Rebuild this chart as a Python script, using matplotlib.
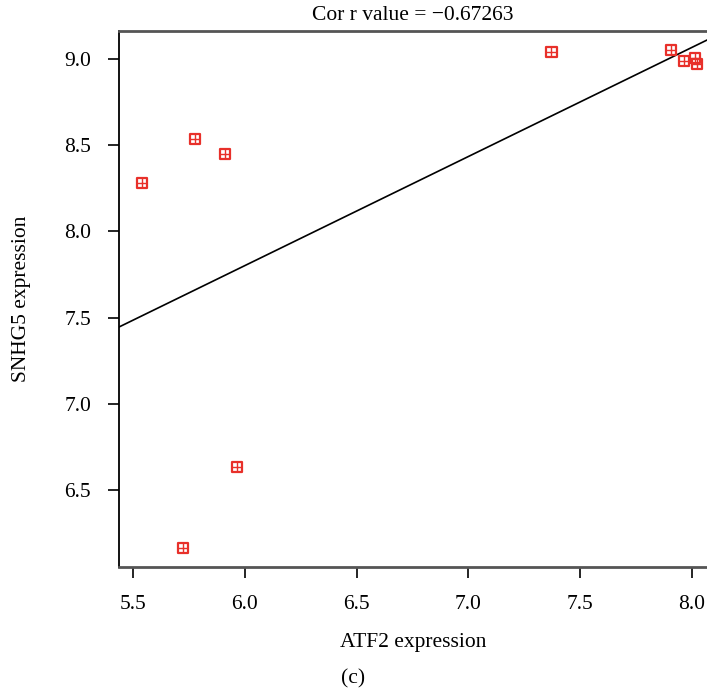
import matplotlib
matplotlib.use('Agg')

import numpy as np
import matplotlib.pyplot as plt

plt.rcParams['font.family'] = ['Liberation Serif', 'DejaVu Serif']

# ATF2 vs SNHG5 expression per sample
atf2 = [5.540, 5.777, 5.911, 5.964, 5.723, 7.371, 7.906, 7.964, 8.013, 8.022]
snhg5 = [8.281, 8.536, 8.449, 6.633, 6.164, 9.041, 9.052, 8.988, 9.006, 8.971]

# fitted line (as drawn)
intercept = 4.003
slope = 0.633

title = "Cor r value = \u22120.67263"
xticks = [5.5, 6.0, 6.5, 7.0, 7.5, 8.0]
yticks = [6.5, 7.0, 7.5, 8.0, 8.5, 9.0]

fig = plt.figure(figsize=(7.07, 6.93), dpi=100)
ax = fig.add_axes([0.1683, 0.1818, 0.8317, 0.7735])

ax.scatter(atf2, snhg5, marker='s', s=55, facecolors='none',
           edgecolors='#e8302a', linewidths=1.6, zorder=3, clip_on=False)
ax.scatter(atf2, snhg5, marker='+', s=55, color='#e8302a',
           linewidths=1.0, zorder=3, clip_on=False)

xl = np.array([5.0, 8.5])
ax.plot(xl, intercept + slope * xl, color='black', lw=1.2)

ax.set_xlim(5.4375, 8.067)
ax.set_ylim(6.053, 9.162)
ax.set_xticks(xticks)
ax.set_yticks(yticks)
ax.set_xticklabels([f"{v:.1f}" for v in xticks])
ax.set_yticklabels([f"{v:.1f}" for v in yticks])
ax.tick_params(direction='out', length=8, width=1.2, labelsize=15.5,
               pad=12, color='black')

ax.spines['right'].set_visible(False)
ax.spines['left'].set_color('black')
ax.spines['left'].set_linewidth(1.3)
for s in ('top', 'bottom'):
    ax.spines[s].set_color('#555555')
    ax.spines[s].set_linewidth(2.0)

ax.set_title(title, fontsize=15.5, pad=8)
ax.set_xlabel("ATF2 expression", fontsize=15.5, labelpad=14)
ax.set_ylabel("SNHG5 expression", fontsize=15.5, labelpad=24)

fig.text(0.5, 0.006, "(c)", ha='center', va='bottom', fontsize=15.5)

fig.savefig("out.png", dpi=100)
